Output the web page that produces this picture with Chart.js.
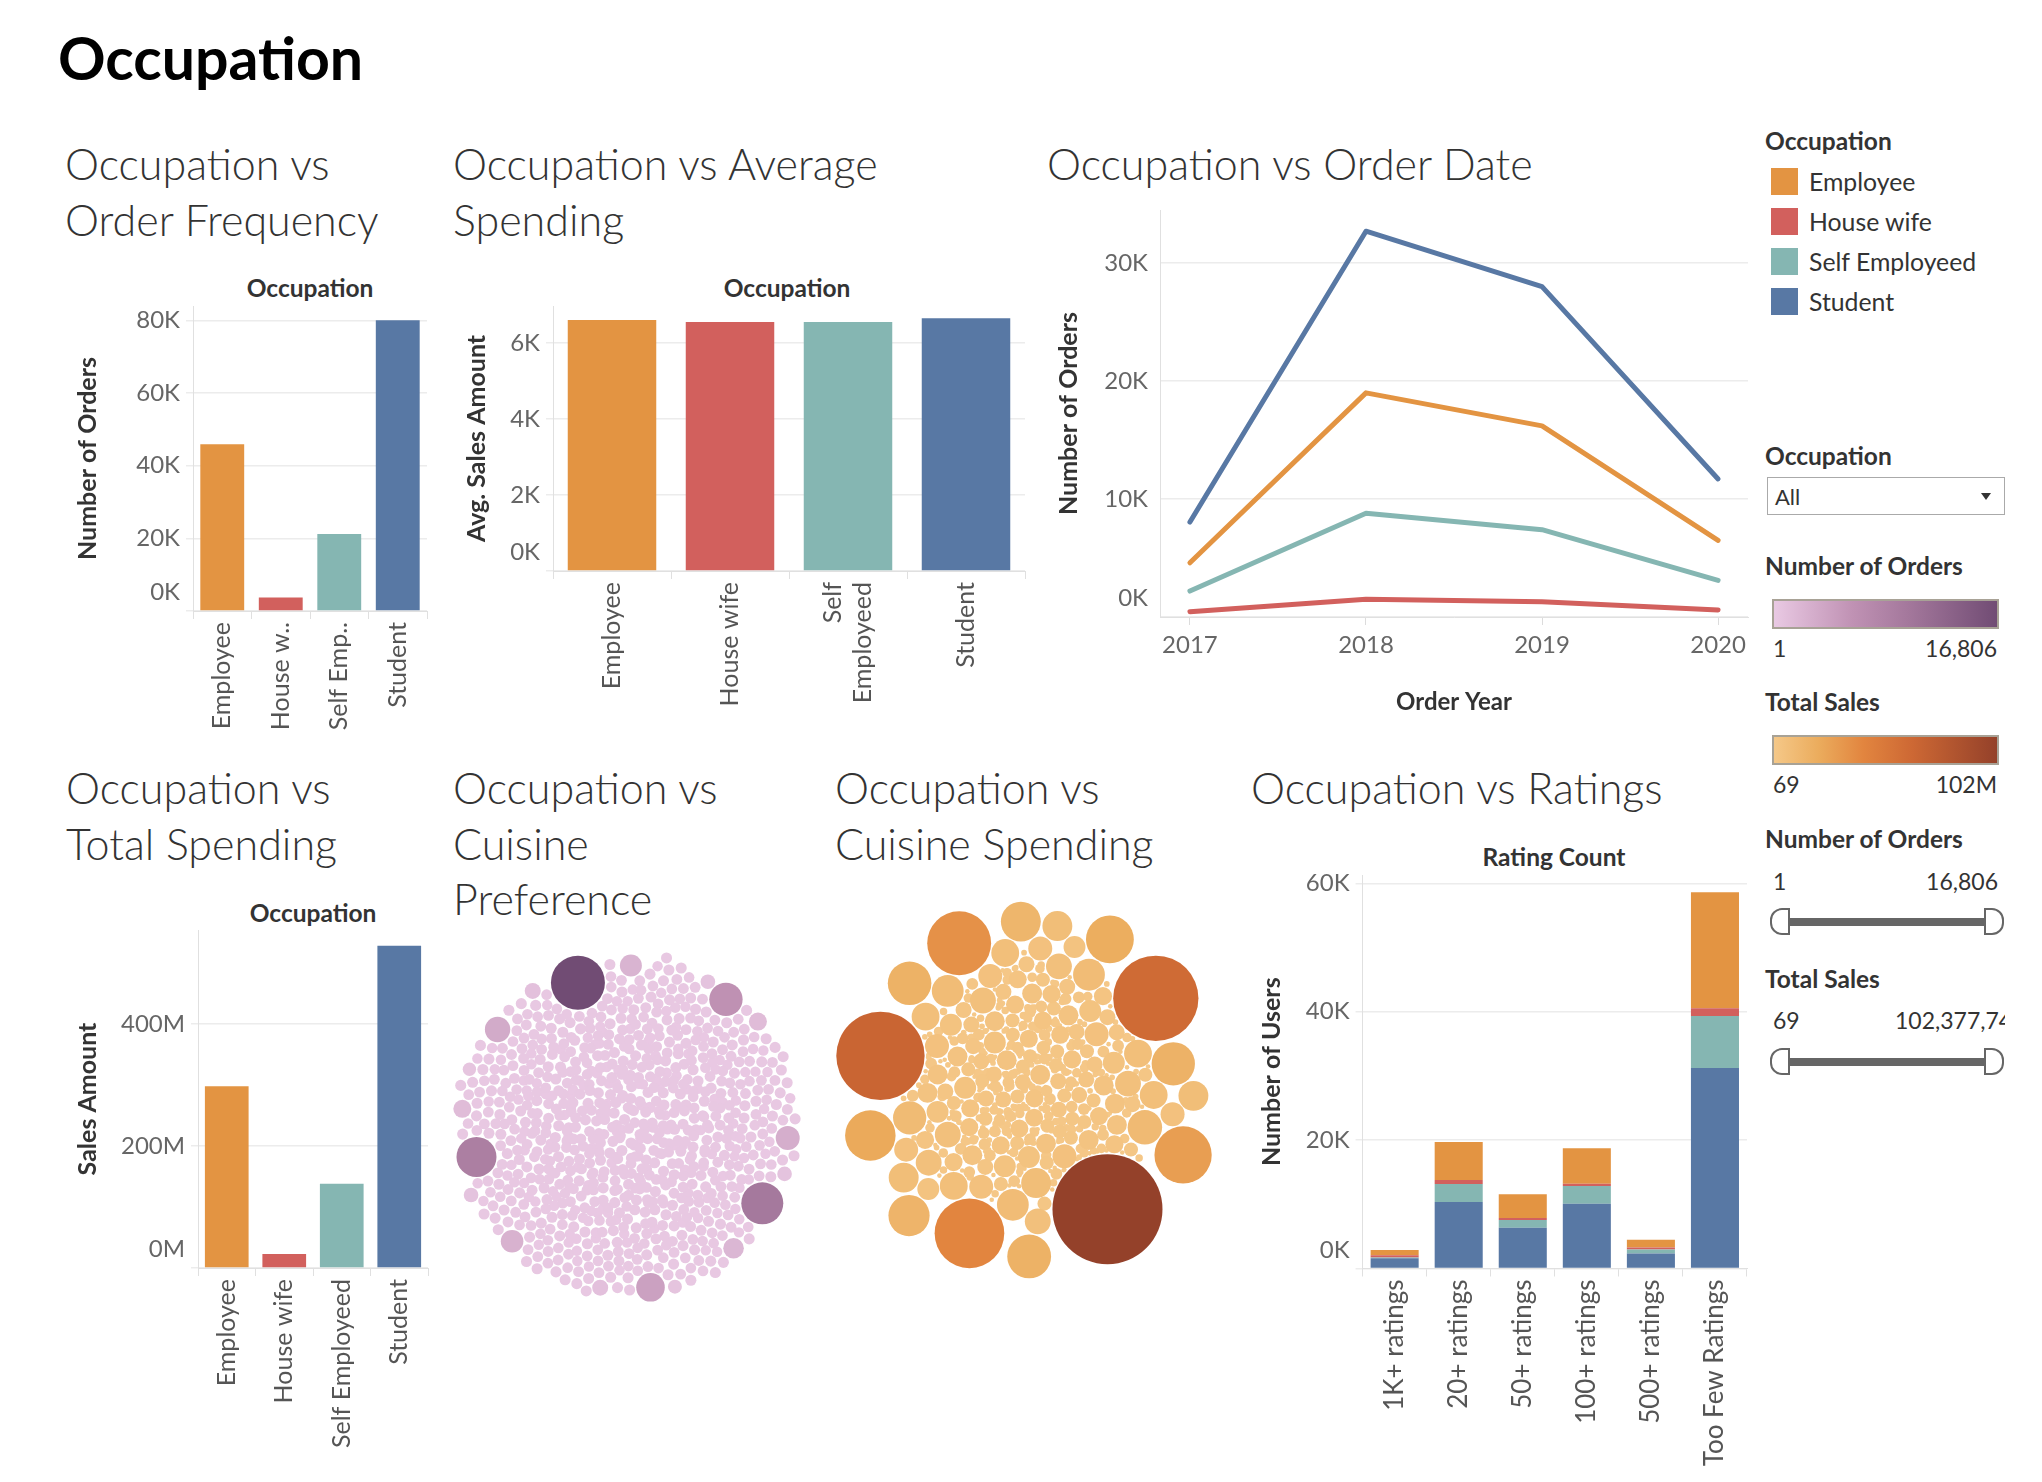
<!DOCTYPE html>
<html>
<head>
<meta charset="utf-8">
<title>Occupation</title>
<script src="https://cdn.jsdelivr.net/npm/chart.js@4.4.1/dist/chart.umd.min.js"></script>
<style>
  html, body { margin: 0; padding: 0; background: #fff; }
  body { width: 2042px; height: 1482px; position: relative; overflow: hidden; font-family: Lato, 'Open Sans', sans-serif; color: #333; }
  .main-title { position: absolute; left: 58px; top: 28px; font-size: 59px; font-weight: 700; line-height: 1; color: #000; white-space: nowrap; }
  .title { position: absolute; font-size: 43px; font-weight: 300; color: #333; white-space: nowrap; }
  .row1 { top: 136px; line-height: 56px; }
  .row2 { top: 760px; line-height: 55.5px; }
  .head { position: absolute; font-size: 24.5px; font-weight: 700; line-height: 1; color: #333; transform: translate(-50%, -50%); white-space: nowrap; }
  .lbl { position: absolute; line-height: 1; white-space: nowrap; }
  .bold { font-size: 24.5px; font-weight: 700; color: #333; }
  .num { font-size: 23px; color: #333; }
  .legrow { position: absolute; left: 1771px; height: 27px; display: flex; align-items: center; font-size: 24.8px; color: #333; }
  .sw { width: 27px; height: 27px; margin-right: 11px; }
  .ramp { position: absolute; left: 1772px; width: 223px; height: 26px; border: 2px solid #a8a296; }
  .rail { position: absolute; left: 1790px; width: 194px; height: 8px; background: #666; }
  .knob { position: absolute; box-sizing: border-box; width: 20px; height: 27px; background: #fff; border: 2px solid #666; }
  .knob.l { left: 1770px; border-radius: 12px 0 0 12px; }
  .knob.r { left: 1984px; border-radius: 0 12px 12px 0; }
</style>
</head>
<body>
<div class="main-title">Occupation</div>

<div class="title row1" style="left:65px">Occupation vs<br>Order Frequency</div>
<div class="title row1" style="left:453px">Occupation vs Average<br>Spending</div>
<div class="title row1" style="left:1047px">Occupation vs Order Date</div>
<div class="title row2" style="left:66px">Occupation vs<br>Total Spending</div>
<div class="title row2" style="left:453px">Occupation vs<br>Cuisine<br>Preference</div>
<div class="title row2" style="left:835px">Occupation vs<br>Cuisine Spending</div>
<div class="title row2" style="left:1251px">Occupation vs Ratings</div>

<div class="head" style="left:310px; top:288px">Occupation</div>
<div class="head" style="left:787px; top:288px">Occupation</div>
<div class="head" style="left:313px; top:913px">Occupation</div>
<div class="head" style="left:1554px; top:857px">Rating Count</div>

<!-- right-hand panel -->
<div class="lbl bold" style="left:1765px; top:129px">Occupation</div>
<div class="lbl bold" style="left:1765px; top:444px">Occupation</div>
<div style="position:absolute; left:1767px; top:477px; width:236px; height:36px; border:1px solid #aaa;"></div>
<div class="lbl" style="left:1775px; top:486px; font-size:22px; color:#333">All</div>
<div style="position:absolute; left:1981px; top:493px; width:0; height:0; border-left:5px solid transparent; border-right:5px solid transparent; border-top:7px solid #333;"></div>

<div class="lbl bold" style="left:1765px; top:554px">Number of Orders</div>
<div class="ramp" id="rampOrders" style="top:599px"></div>
<div class="lbl num" style="left:1773px; top:637px">1</div>
<div class="lbl num" style="left:1897px; width:100px; text-align:right; top:637px">16,806</div>

<div class="lbl bold" style="left:1765px; top:690px">Total Sales</div>
<div class="ramp" id="rampSales" style="top:735px"></div>
<div class="lbl num" style="left:1773px; top:773px">69</div>
<div class="lbl num" style="left:1897px; width:100px; text-align:right; top:773px">102M</div>

<div class="lbl bold" style="left:1765px; top:827px">Number of Orders</div>
<div class="lbl num" style="left:1773px; top:870px">1</div>
<div class="lbl num" style="left:1898px; width:100px; text-align:right; top:870px">16,806</div>
<div class="rail" style="top:918px"></div>
<div class="knob l" style="top:908px"></div>
<div class="knob r" style="top:908px"></div>

<div class="lbl bold" style="left:1765px; top:967px">Total Sales</div>
<div class="lbl num" style="left:1773px; top:1009px">69</div>
<div class="lbl num" style="left:1895px; width:110px; overflow:hidden; top:1009px">102,377,746</div>
<div class="rail" style="top:1058px"></div>
<div class="knob l" style="top:1048px"></div>
<div class="knob r" style="top:1048px"></div>

<script>
// ---- data ----
var occupations = ['Employee', 'House wife', 'Self Employeed', 'Student'];

// Occupation vs Order Frequency
var freqLabels = ['Employee', 'House w..', 'Self Emp..', 'Student'];
var orderCounts = [45900, 3700, 21200, 80100];
var freqTicks = [0, 20000, 40000, 60000, 80000];

// Occupation vs Average Spending
var avgLabels = ['Employee', 'House wife', ['Self', 'Employeed'], 'Student'];
var avgSales = [6604, 6551, 6551, 6646];
var avgTicks = [0, 2000, 4000, 6000];

// Occupation vs Order Date
var years = [2017, 2018, 2019, 2020];
var employeeByYear = [4600, 19000, 16200, 6500];
var houseWifeByYear = [450, 1500, 1300, 600];
var selfEmployedByYear = [2200, 8800, 7400, 3100];
var studentByYear = [8050, 32700, 28000, 11700];
var dateTicks = [0, 10000, 20000, 30000];

// Occupation vs Total Spending
var totalLabels = ['Employee', 'House wife', 'Self Employeed', 'Student'];
var totalSales = [298e6, 23e6, 138e6, 528e6];
var totalTicks = [0, 200e6, 400e6];

// Occupation vs Ratings
var ratingBands = ['1K+ ratings', '20+ ratings', '50+ ratings', '100+ ratings', '500+ ratings', 'Too Few Ratings'];
var studentUsers = [1600, 10360, 6340, 10080, 2320, 31230];
var selfEmployedUsers = [100, 2800, 1210, 2790, 650, 8100];
var houseWifeUsers = [350, 640, 300, 350, 290, 1210];
var employeeUsers = [850, 5890, 3720, 5530, 1220, 18090];
var ratingTicks = [0, 20000, 40000, 60000];

// Occupation vs Cuisine Preference (number of orders per bubble)
var prefLargeOrders = [16806, 9930, 8950, 6060, 4280, 3250, 2840, 2450, 2290, 1940, 1340, 1340, 930, 930, 680, 680, 680, 570, 470];
// the hundreds of small bubbles look alike; estimated by size band
var prefSmallOrders = [60, 90, 110, 140];
var prefSmallCounts = [160, 215, 260, 185];

// Occupation vs Cuisine Spending (total sales per bubble, $M)
var spendLargeSales = [102.38, 66, 61.5, 41, 34.5, 27.7, 21.5, 19.3, 16.2, 16, 15.8, 14.3, 13.4, 10, 9.3];
var spendSmallSales = [8.5, 7.5, 6.5, 5.6, 4.8, 4.0, 3.3, 2.7, 2.1, 1.6, 1.1, 0.7, 0.4, 0.2, 0.1];
var spendSmallCounts = [3, 4, 5, 6, 8, 10, 14, 18, 22, 28, 35, 45, 60, 80, 80];

// ---- styling ----
var occColors = ['#e39442', '#d2605d', '#85b6b2', '#5878a4'];
var orderStops = [[0, [233, 201, 227]], [0.35, [192, 146, 180]], [0.6, [164, 120, 156]], [1, [113, 76, 116]]];
var salesStops = [[0, [245, 200, 136]], [0.2, [235, 172, 93]], [0.4, [226, 133, 63]], [0.62, [205, 104, 52]], [1, [148, 65, 42]]];

Chart.defaults.font.family = "Lato, 'Open Sans', sans-serif";
Chart.defaults.color = '#666';

// Tableau keeps the bottom axis label inside the pane, and centres wrapped labels on the mark
var tableauLabels = {
  id: 'tableauLabels',
  beforeDraw: function (chart) {
    var y = chart.scales.y, x = chart.scales.x;
    if (y && y.options.display !== false) {
      y.getLabelItems(chart.chartArea).forEach(function (it, i) {
        if (!it._moved && y.ticks[i] && y.ticks[i].value === 0) {
          it.options.translation[1] -= 18.5;
          it._moved = true;
        }
      });
    }
    if (x && x.options.display !== false) {
      x.getLabelItems(chart.chartArea).forEach(function (it) {
        if (!it._moved && Array.isArray(it.label) && it.label.length > 1) {
          it.options.translation[0] -= it.font.lineHeight * (it.label.length - 1) / 2;
          it._moved = true;
        }
      });
    }
  }
};

function rampColor(stops, t) {
  t = Math.max(0, Math.min(1, t));
  for (var i = 1; i < stops.length; i++) {
    if (t <= stops[i][0]) {
      var a = stops[i - 1], b = stops[i];
      var f = (t - a[0]) / (b[0] - a[0]);
      var c = a[1].map(function (v, k) { return Math.round(v + (b[1][k] - v) * f); });
      return 'rgb(' + c.join(',') + ')';
    }
  }
  return 'rgb(' + stops[stops.length - 1][1].join(',') + ')';
}

function rampCss(stops) {
  return 'linear-gradient(to right, ' + stops.map(function (s) {
    return 'rgb(' + s[1].join(',') + ') ' + (s[0] * 100) + '%';
  }).join(', ') + ')';
}

document.getElementById('rampOrders').style.background = rampCss(orderStops);
document.getElementById('rampSales').style.background = rampCss(salesStops);

occupations.forEach(function (name, i) {
  var row = document.createElement('div');
  row.className = 'legrow';
  row.style.top = (168 + i * 40) + 'px';
  row.innerHTML = '<span class="sw" style="background:' + occColors[i] + '"></span><span>' + name + '</span>';
  document.body.appendChild(row);
});

function makeCanvas(left, top, width, height) {
  var wrap = document.createElement('div');
  wrap.style.cssText = 'position:absolute;left:' + left + 'px;top:' + top + 'px;width:' + width + 'px;height:' + height + 'px;';
  var c = document.createElement('canvas');
  wrap.appendChild(c);
  document.body.appendChild(wrap);
  return c;
}

function kFmt(v) { return (v / 1000) + 'K'; }
function mFmt(v) { return (v / 1e6) + 'M'; }

function barOptions(o) {
  return {
    responsive: true,
    maintainAspectRatio: false,
    animation: false,
    events: [],
    layout: { padding: { top: 10, right: o.padRight, left: 0, bottom: 0 } },
    plugins: { legend: { display: false }, tooltip: { enabled: false } },
    scales: {
      x: {
        stacked: !!o.stacked,
        grid: { drawOnChartArea: false, drawTicks: true, tickLength: 8, color: '#e0e0e0', offset: true },
        border: { display: true, color: '#e0e0e0' },
        ticks: { autoSkip: false, minRotation: 90, maxRotation: 90, padding: 3, color: '#555', font: { size: o.xFont || 25 } },
        afterFit: function (s) { s.height = o.xHeight; s.paddingLeft = 0; s.paddingRight = 0; }
      },
      y: {
        stacked: !!o.stacked,
        min: 0,
        max: o.max,
        afterBuildTicks: function (a) { a.ticks = o.ticks.map(function (v) { return { value: v }; }); },
        grid: { color: '#ececec', lineWidth: 1.5, drawTicks: true, tickLength: 7 },
        border: { display: true, color: '#e0e0e0' },
        ticks: { padding: 6, color: '#666', font: { size: 24 }, callback: o.fmt },
        title: { display: true, text: o.yTitle, color: '#333', font: { size: o.yTitleSize || 25, weight: 'bold' }, padding: { top: o.titlePad, bottom: 0 } },
        afterFit: function (s) { s.width = o.yWidth; s.paddingTop = 0; s.paddingBottom = 0; }
      }
    }
  };
}

// Occupation vs Order Frequency
new Chart(makeCanvas(60, 296, 380, 460), {
  type: 'bar',
  data: {
    labels: freqLabels,
    datasets: [{ data: orderCounts, backgroundColor: occColors, barPercentage: 0.75, categoryPercentage: 1 }]
  },
  options: barOptions({ padRight: 13, xHeight: 145, yWidth: 133, max: 84000, ticks: freqTicks, fmt: kFmt, yTitle: 'Number of Orders', titlePad: 13 }),
  plugins: [tableauLabels]
});

// Occupation vs Average Spending
new Chart(makeCanvas(440, 296, 600, 460), {
  type: 'bar',
  data: {
    labels: avgLabels,
    datasets: [{ data: avgSales, backgroundColor: occColors, barPercentage: 0.75, categoryPercentage: 1 }]
  },
  options: barOptions({ padRight: 15, xHeight: 185, yWidth: 113, max: 6970, ticks: avgTicks, fmt: kFmt, yTitle: 'Avg. Sales Amount', titlePad: 22 }),
  plugins: [tableauLabels]
});

// Occupation vs Total Spending
new Chart(makeCanvas(60, 920, 380, 562), {
  type: 'bar',
  data: {
    labels: totalLabels,
    datasets: [{ data: totalSales, backgroundColor: occColors, barPercentage: 0.76, categoryPercentage: 1 }]
  },
  options: barOptions({ padRight: 12, xHeight: 214, yWidth: 138, max: 554e6, ticks: totalTicks, fmt: mFmt, yTitle: 'Sales Amount', titlePad: 13 }),
  plugins: [tableauLabels]
});

// Occupation vs Ratings (stacked: Student at the bottom, Employee on top)
new Chart(makeCanvas(1240, 865, 520, 617), {
  type: 'bar',
  data: {
    labels: ratingBands,
    datasets: [
      { label: occupations[3], data: studentUsers, backgroundColor: occColors[3] },
      { label: occupations[2], data: selfEmployedUsers, backgroundColor: occColors[2] },
      { label: occupations[1], data: houseWifeUsers, backgroundColor: occColors[1] },
      { label: occupations[0], data: employeeUsers, backgroundColor: occColors[0] }
    ].map(function (d) { d.barPercentage = 0.75; d.categoryPercentage = 1; return d; })
  },
  options: barOptions({ stacked: true, padRight: 13, xHeight: 213.5, yWidth: 122.6, max: 61300, ticks: ratingTicks, fmt: kFmt, yTitle: 'Number of Users', titlePad: 17, xFont: 26 }),
  plugins: [tableauLabels]
});

// Occupation vs Order Date
var yearSeries = [employeeByYear, houseWifeByYear, selfEmployedByYear, studentByYear];
new Chart(makeCanvas(1040, 200, 720, 520), {
  type: 'line',
  data: {
    datasets: yearSeries.map(function (arr, i) {
      return {
        label: occupations[i],
        data: years.map(function (yr, k) { return { x: yr, y: arr[k] }; }),
        borderColor: occColors[i],
        borderWidth: 5,
        borderCapStyle: 'round',
        borderJoinStyle: 'round',
        pointRadius: 0,
        tension: 0
      };
    })
  },
  options: {
    responsive: true,
    maintainAspectRatio: false,
    animation: false,
    events: [],
    layout: { padding: { top: 10, right: 12, left: 0, bottom: 0 } },
    plugins: { legend: { display: false }, tooltip: { enabled: false } },
    scales: {
      x: {
        type: 'linear',
        min: 2016.83,
        max: 2020.17,
        afterBuildTicks: function (a) { a.ticks = years.map(function (v) { return { value: v }; }); },
        grid: { drawOnChartArea: false, drawTicks: true, tickLength: 8, color: '#dcdcdc' },
        border: { display: true, color: '#e0e0e0' },
        ticks: { padding: 6, color: '#666', font: { size: 24 }, callback: function (v) { return String(v); } },
        title: { display: true, text: 'Order Year', color: '#333', font: { size: 24, weight: 'bold' }, padding: { top: 4, bottom: 3 } },
        afterFit: function (s) { s.height = 103; s.paddingLeft = 0; s.paddingRight = 0; }
      },
      y: {
        min: 0,
        max: 34500,
        afterBuildTicks: function (a) { a.ticks = dateTicks.map(function (v) { return { value: v }; }); },
        grid: { color: '#ececec', lineWidth: 1.5, drawTicks: false },
        border: { display: true, color: '#e0e0e0' },
        ticks: { padding: 12, color: '#666', font: { size: 24 }, callback: kFmt },
        title: { display: true, text: 'Number of Orders', color: '#333', font: { size: 25, weight: 'bold' }, padding: { top: 14, bottom: 0 } },
        afterFit: function (s) { s.width = 120; s.paddingTop = 0; s.paddingBottom = 0; }
      }
    }
  },
  plugins: [tableauLabels]
});

// ---- packed bubbles ----
function expand(values, counts) {
  var out = [];
  values.forEach(function (v, i) { for (var k = 0; k < counts[i]; k++) out.push(v); });
  return out;
}

// phyllotaxis start, then relax overlaps while pulling towards the centre.
// leadAngle turns the finished layout so the biggest bubble sits in that
// screen direction (degrees, clockwise from the right).
function packBubbles(radii, gap, leadAngle) {
  var n = radii.length, xs = new Float64Array(n), ys = new Float64Array(n), area = 0;
  for (var i = 0; i < n; i++) {
    var rr = radii[i] + gap / 2;
    area += Math.PI * rr * rr;
    var rho = Math.sqrt(area / Math.PI / 0.8), th = i * 2.399963;
    xs[i] = rho * Math.cos(th);
    ys[i] = rho * Math.sin(th);
  }
  for (var it = 0; it < 260; it++) {
    if (it < 200) {
      for (i = 0; i < n; i++) { xs[i] *= 0.988; ys[i] *= 0.988; }
    }
    for (i = 0; i < n; i++) {
      for (var j = i + 1; j < n; j++) {
        var min = radii[i] + radii[j] + gap;
        var dx = xs[j] - xs[i];
        if (dx > min || dx < -min) continue;
        var dy = ys[j] - ys[i];
        if (dy > min || dy < -min) continue;
        var d2 = dx * dx + dy * dy;
        if (d2 >= min * min) continue;
        var d = Math.sqrt(d2) || 0.001, over = min - d;
        var mi = radii[i] * radii[i], mj = radii[j] * radii[j];
        var fi = mj / (mi + mj), fj = mi / (mi + mj);
        var ux = dx / d, uy = dy / d;
        xs[i] -= ux * over * fi; ys[i] -= uy * over * fi;
        xs[j] += ux * over * fj; ys[j] += uy * over * fj;
      }
    }
  }
  // chart y points up, so a clockwise screen angle is negative here
  var turn = -leadAngle * Math.PI / 180 - Math.atan2(ys[n - 1], xs[n - 1]);
  var c = Math.cos(turn), s = Math.sin(turn);
  for (i = 0; i < n; i++) {
    var px = xs[i], py = ys[i];
    xs[i] = px * c - py * s;
    ys[i] = px * s + py * c;
  }
  var x0 = Infinity, x1 = -Infinity, y0 = Infinity, y1 = -Infinity;
  for (i = 0; i < n; i++) {
    x0 = Math.min(x0, xs[i] - radii[i]); x1 = Math.max(x1, xs[i] + radii[i]);
    y0 = Math.min(y0, ys[i] - radii[i]); y1 = Math.max(y1, ys[i] + radii[i]);
  }
  var cx = (x0 + x1) / 2, cy = (y0 + y1) / 2;
  var pts = [];
  for (i = 0; i < n; i++) pts.push({ x: xs[i] - cx, y: ys[i] - cy, r: radii[i] });
  return pts;
}

function bubbleChart(canvas, values, vMin, vMax, rMin, rMax, stops, w, h, leadAngle) {
  var sorted = values.slice().sort(function (a, b) { return a - b; });
  var radii = sorted.map(function (v) {
    var t = (v - vMin) / (vMax - vMin);
    return Math.sqrt(rMin * rMin + (rMax * rMax - rMin * rMin) * t);
  });
  var pts = packBubbles(radii, 1.2, leadAngle);
  new Chart(canvas, {
    type: 'bubble',
    data: {
      datasets: [{
        data: pts,
        backgroundColor: sorted.map(function (v) { return rampColor(stops, (v - vMin) / (vMax - vMin)); }),
        borderWidth: 0,
        clip: false
      }]
    },
    options: {
      responsive: true,
      maintainAspectRatio: false,
      animation: false,
      events: [],
      layout: { padding: 0, autoPadding: false },
      plugins: { legend: { display: false }, tooltip: { enabled: false } },
      scales: {
        x: { display: false, min: -w / 2, max: w / 2 },
        y: { display: false, min: -h / 2, max: h / 2 }
      }
    }
  });
}

var prefOrders = prefLargeOrders.concat(expand(prefSmallOrders, prefSmallCounts));
bubbleChart(makeCanvas(437, 927, 380, 400), prefOrders, 1, 16806, 5, 27, orderStops, 380, 400, -109);

var spendSales = spendLargeSales.concat(expand(spendSmallSales, spendSmallCounts));
bubbleChart(makeCanvas(804, 870, 440, 440), spendSales, 0.000069, 102.38, 1.5, 55, salesStops, 440, 440, 57);
</script>
</body>
</html>
